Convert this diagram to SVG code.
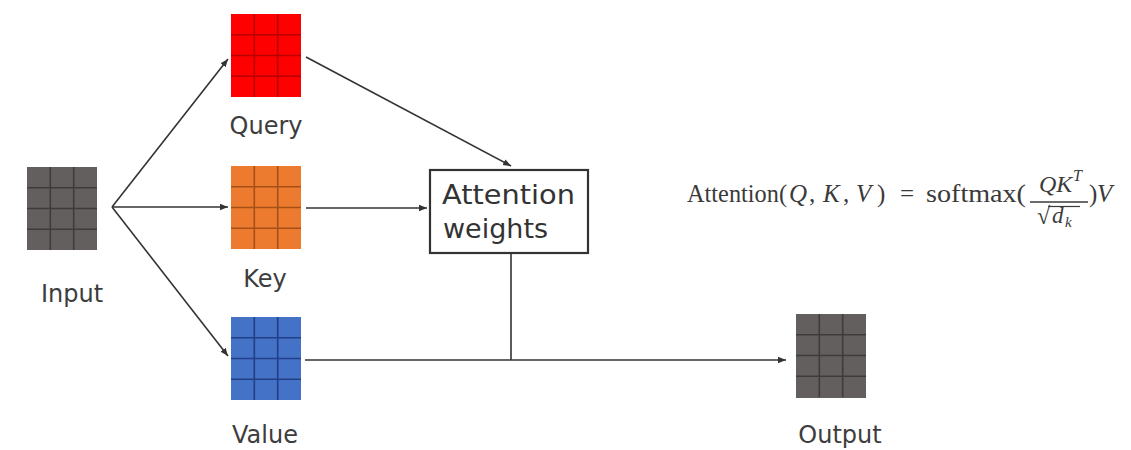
<svg xmlns="http://www.w3.org/2000/svg" width="1131" height="450" viewBox="0 0 1131 450">
  <style>
    .label { font-family: "DejaVu Sans", "Noto Sans", sans-serif; font-size: 24px; fill: #3d3d3d; text-anchor: middle; }
    .boxtext { font-family: "DejaVu Sans", "Noto Sans", sans-serif; font-size: 27px; fill: #333333; }
    .math { font-family: "Liberation Serif", "DejaVu Serif", serif; fill: #3a3a3a; font-size: 25px; }
    .it { font-style: italic; }
    .edge { fill: none; stroke: #333333; stroke-width: 1.6; marker-end: url(#arrow); }
    .plain { fill: none; stroke: #333333; stroke-width: 1.6; }
    .gridline { fill: none; stroke-width: 1.6; }
  </style>
  <defs>
    <marker id="arrow" markerUnits="userSpaceOnUse" markerWidth="10" markerHeight="8" refX="8" refY="4" orient="auto">
      <path d="M0,0.8 L8,4 L0,7.2 Z" fill="#333333"/>
    </marker>
    <!-- 3 x 4 cell grid, 70 x 83 -->
    <g id="cells" class="gridline">
      <line x1="23.3" y1="0" x2="23.3" y2="83"/>
      <line x1="46.7" y1="0" x2="46.7" y2="83"/>
      <line x1="0" y1="20.75" x2="70" y2="20.75"/>
      <line x1="0" y1="41.5" x2="70" y2="41.5"/>
      <line x1="0" y1="62.25" x2="70" y2="62.25"/>
    </g>
  </defs>

  <rect width="1131" height="450" fill="#ffffff"/>

  <!-- connectors -->
  <g id="connectors">
    <line class="edge" x1="112" y1="207" x2="228" y2="59"/>
    <line class="edge" x1="112" y1="207" x2="228" y2="207"/>
    <line class="edge" x1="112" y1="207" x2="228" y2="356"/>
    <line class="edge" x1="306" y1="57" x2="511" y2="166"/>
    <line class="edge" x1="306" y1="208" x2="427" y2="208"/>
    <line class="plain" x1="511" y1="253" x2="511" y2="360"/>
    <line class="edge" x1="305" y1="360" x2="786" y2="360"/>
  </g>

  <g id="input">
    <rect x="27" y="167" width="70" height="83" fill="#625f5e"/>
    <use href="#cells" x="27" y="167" stroke="#3e3c3b"/>
    <text class="label" x="72" y="302">Input</text>
  </g>

  <g id="query">
    <rect x="231" y="14" width="70" height="83" fill="#fe0000"/>
    <use href="#cells" x="231" y="14" stroke="#b80000"/>
    <text class="label" x="266" y="134">Query</text>
  </g>

  <g id="key">
    <rect x="231" y="166" width="70" height="83" fill="#ec7b30"/>
    <use href="#cells" x="231" y="166" stroke="#a64f17"/>
    <text class="label" x="265" y="287">Key</text>
  </g>

  <g id="value">
    <rect x="231" y="317" width="70" height="83" fill="#4472c6"/>
    <use href="#cells" x="231" y="317" stroke="#213f86"/>
    <text class="label" x="265" y="443">Value</text>
  </g>

  <g id="output">
    <rect x="796" y="314" width="70" height="84" fill="#625f5e"/>
    <use href="#cells" x="796" y="314" stroke="#3e3c3b"/>
    <text class="label" x="840" y="443">Output</text>
  </g>

  <g id="attention-weights">
    <rect x="430" y="170" width="158" height="83" fill="#ffffff" stroke="#333333" stroke-width="2.2"/>
    <text class="boxtext" x="442" y="204" textLength="133" lengthAdjust="spacingAndGlyphs">Attention</text>
    <text class="boxtext" x="443" y="238">weights</text>
  </g>

  <!-- scaled dot-product attention formula -->
  <g id="formula" class="math">
    <text x="687" y="202" textLength="100" lengthAdjust="spacingAndGlyphs">Attention(</text>
    <text x="789" y="202" class="it">Q</text>
    <text x="809" y="202">,</text>
    <text x="823" y="202" class="it">K</text>
    <text x="843" y="202">,</text>
    <text x="856" y="202" class="it">V</text>
    <text x="877" y="202">)</text>
    <text x="900" y="202">=</text>
    <text x="926" y="202" textLength="100" lengthAdjust="spacingAndGlyphs">softmax(</text>
    <text x="1039" y="192" font-size="24" class="it">QK</text>
    <text x="1073" y="181" font-size="16" class="it">T</text>
    <line x1="1030" y1="202" x2="1088" y2="202" stroke="#3a3a3a" stroke-width="1.3"/>
    <text x="1037" y="224" font-size="24">√</text>
    <line x1="1048" y1="206.5" x2="1080" y2="206.5" stroke="#3a3a3a" stroke-width="1.2"/>
    <text x="1052" y="223" font-size="23" class="it">d</text>
    <text x="1065" y="227" font-size="15" class="it">k</text>
    <text x="1089" y="202">)</text>
    <text x="1097" y="202" class="it">V</text>
  </g>
</svg>
